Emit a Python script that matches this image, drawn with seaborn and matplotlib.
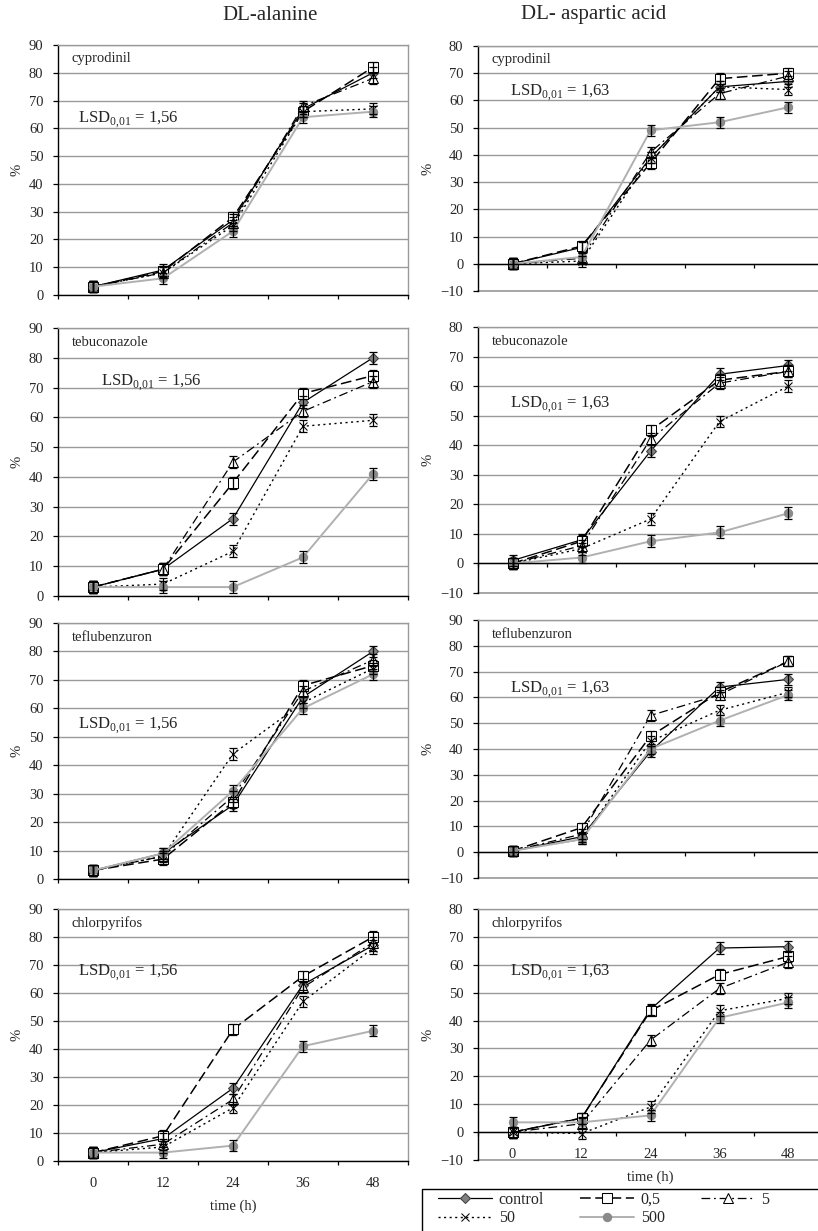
import matplotlib
matplotlib.use("Agg")
import matplotlib.pyplot as plt
from matplotlib.patches import Rectangle
import seaborn as sns

times = [0, 12, 24, 36, 48]
time_labels = ["0", "12", "24", "36", "48"]
concentrations = ["control", "0,5", "5", "50", "500"]
pesticides = ["cyprodinil", "tebuconazole", "teflubenzuron", "chlorpyrifos"]
substrates = ["DL-alanine", "DL- aspartic acid"]
lsd_values = ["1,56", "1,63"]

# rows: control, 0,5, 5, 50, 500  (%)
ala_cyprodinil = [
    [3, 9, 27, 67, 80],
    [3, 8.5, 28, 66, 82],
    [3, 8, 26, 68, 78],
    [3, 8, 25, 66, 67],
    [3, 6, 23, 64, 66],
]
ala_tebuconazole = [
    [3, 9, 26, 65, 80],
    [3, 9, 38, 68, 74],
    [3, 9, 45, 62, 72],
    [3, 4, 15, 57, 59],
    [3, 3, 3, 13, 41],
]
ala_teflubenzuron = [
    [3, 9, 26, 64, 80],
    [3, 7, 27, 68, 75],
    [3, 8, 29, 66, 77],
    [3, 8, 44, 62, 74],
    [3, 9, 31, 60, 72],
]
ala_chlorpyrifos = [
    [3, 8, 26, 63, 77],
    [3, 9, 47, 66, 80],
    [3, 6, 22, 62, 78],
    [3, 5, 19, 57, 76],
    [3, 3, 5.5, 41, 46.5],
]
asp_cyprodinil = [
    [0, 6, 39, 65, 67],
    [0, 6.5, 37, 68, 70],
    [0, 2, 41, 62.5, 69],
    [0, 1, 39, 65, 64],
    [0, 2.5, 49, 52, 57.5],
]
asp_tebuconazole = [
    [1, 8, 38, 64, 67],
    [0, 7.5, 45, 62, 65],
    [0, 6, 42, 61, 65],
    [0, 5, 15, 48, 60],
    [0, 2, 7.5, 10.5, 17],
]
asp_teflubenzuron = [
    [0.5, 6, 39, 64, 67],
    [0.5, 9.5, 45, 62, 74],
    [0.5, 7, 53, 61, 74],
    [0.5, 5, 43, 55, 62],
    [0.5, 5, 40, 51, 61],
]
asp_chlorpyrifos = [
    [0, 5, 44, 66, 66.5],
    [0, 5, 43.5, 56.5, 63],
    [0, 3, 33, 51.5, 61],
    [0, -0.5, 9, 43.5, 48],
    [3.5, 3.5, 6, 41, 46.5],
]
alanine = [ala_cyprodinil, ala_tebuconazole, ala_teflubenzuron, ala_chlorpyrifos]
aspartic = [asp_cyprodinil, asp_tebuconazole, asp_teflubenzuron, asp_chlorpyrifos]
ylims_alanine = [(0, 90), (0, 90), (0, 90), (0, 90)]
ylims_aspartic = [(-10, 80), (-10, 80), (-10, 90), (-10, 80)]
err = 2.0

sns.set_style("white")
plt.rcParams["font.family"] = ["Liberation Serif", "DejaVu Serif"]
plt.rcParams["mathtext.fontset"] = "custom"
plt.rcParams["mathtext.rm"] = "Liberation Serif"

styles = {
    "control": dict(color="black", linestyle="-", linewidth=0.9, marker="D", markersize=5,
                    markerfacecolor="#808080", markeredgecolor="#404040"),
    "0,5": dict(color="black", linestyle=(0, (7, 3)), linewidth=1.1, marker="s", markersize=6.5,
                markerfacecolor="white", markeredgecolor="black"),
    "5": dict(color="black", linestyle=(0, (7, 3, 1.5, 3)), linewidth=0.9, marker="^", markersize=6.5,
              markerfacecolor="white", markeredgecolor="black"),
    "50": dict(color="black", linestyle=(0, (1.5, 2.5)), linewidth=1.0, marker="x", markersize=5.5,
               markeredgecolor="black"),
    "500": dict(color="#b0b0b0", linestyle="-", linewidth=1.4, marker="o", markersize=6,
                markerfacecolor="#8a8a8a", markeredgecolor="#8a8a8a"),
}

W, H = 818, 1231
fig = plt.figure(figsize=(W / 100, H / 100), dpi=100)

# plot areas in pixels: (left, top, width, bottom)
boxes_left = [(58, 45, 350, 295), (58, 328, 350, 596), (58, 623, 350, 879), (58, 909, 350, 1161)]
boxes_right = [(478, 46, 345, 291), (478, 327, 345, 593), (478, 620, 345, 878), (478, 909, 345, 1160)]
lsd_pos_left = [(0.057, 0.70), (0.123, 0.795), (0.057, 0.60), (0.057, 0.746)]
lsd_pos_right = [(0.093, 0.81), (0.093, 0.707), (0.093, 0.73), (0.093, 0.745)]

grid_c = "#9a9a9a"
handles = {}

for col, (data, ylims, boxes, lsd_pos) in enumerate(
        [(alanine, ylims_alanine, boxes_left, lsd_pos_left),
         (aspartic, ylims_aspartic, boxes_right, lsd_pos_right)]):
    for row in range(4):
        l, t, w, b = boxes[row]
        ax = fig.add_axes([l / W, 1 - b / H, w / W, (b - t) / H])
        ax.set_axisbelow(True)
        for name, vals in zip(concentrations, data[row]):
            sns.lineplot(x=times, y=vals, ax=ax, errorbar=None, label=name, **styles[name])
            handles.setdefault(name, ax.lines[-1])
            ax.errorbar(times, vals, yerr=err, fmt="none", ecolor="black",
                        elinewidth=0.9, capsize=2.8, capthick=0.9, zorder=3)
        if ax.get_legend() is not None:
            ax.get_legend().remove()

        lo, hi = ylims[row]
        ax.set_ylim(lo, hi)
        ax.set_yticks(range(lo, hi + 1, 10))
        ax.set_xlim(-6, 54)
        ax.set_xticks([-6, 6, 18, 30, 42, 54])
        ax.set_xticks(times, minor=True)
        ax.set_xticklabels([])
        ax.set_xticklabels(time_labels if row == 3 else [""] * 5, minor=True)
        ax.yaxis.grid(True, color=grid_c, linewidth=1)
        ax.xaxis.grid(False)
        ax.tick_params(axis="y", direction="out", length=3.5, width=0.9, pad=7,
                       labelsize=10.5, left=True, color="black")
        ax.tick_params(axis="x", which="major", direction="out", length=3, width=0.9,
                       bottom=True, color="black")
        ax.tick_params(axis="x", which="minor", length=0, pad=11.5, labelsize=10.5)

        for s in ["left", "bottom"]:
            ax.spines[s].set_color("black")
            ax.spines[s].set_linewidth(1)
        for s in ["top", "right"]:
            ax.spines[s].set_color(grid_c)
            ax.spines[s].set_linewidth(1)
        if lo < 0:
            ax.spines["bottom"].set_position(("data", 0))
            # plot-area border under the zero axis
            ax.axhline(lo, color=grid_c, linewidth=1.2, clip_on=False, zorder=0.5)

        ax.set_ylabel("%", fontsize=10.5, labelpad=4)
        ax.set_xlabel("time (h)" if row == 3 else "", fontsize=10.5, labelpad=7)

        ax.text(0.04, 0.945, pesticides[row], transform=ax.transAxes,
                fontsize=10.5, ha="left", va="center")
        ax.text(lsd_pos[row][0], lsd_pos[row][1], r"LSD$_{0{,}01}$ = " + lsd_values[col],
                transform=ax.transAxes, fontsize=12, ha="left", va="center")

fig.text(270 / W, 1 - 15 / H, substrates[0], fontsize=15, ha="center", va="center")
fig.text(594 / W, 1 - 15 / H, substrates[1], fontsize=15, ha="center", va="center")

# legend, filled row-wise: control 0,5 5 / 50 500
order = ["control", "50", "0,5", "500", "5"]
fig.legend([handles[k] for k in order], order, loc="upper left",
           bbox_to_anchor=(438 / W, 1 - 1192 / H), ncol=3, frameon=False,
           fontsize=11.5, handlelength=3.4, handletextpad=0.4, columnspacing=2.25,
           labelspacing=0.15, borderpad=0, borderaxespad=0)
fig.patches.append(Rectangle((422 / W, -0.02), (830 - 422) / W, 1 - 1189 / H + 0.02,
                             transform=fig.transFigure, fill=False, edgecolor="black",
                             linewidth=1))

fig.savefig("out.png", dpi=100)
